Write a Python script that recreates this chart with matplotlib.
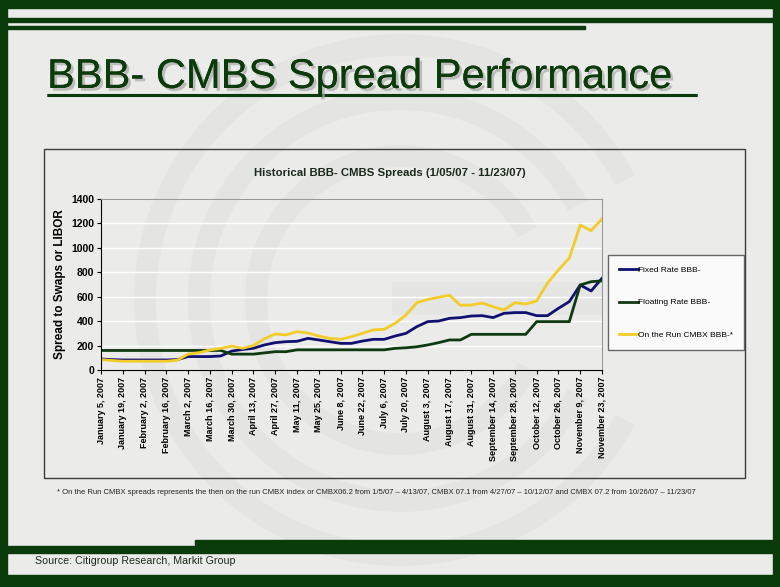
import matplotlib
matplotlib.use('Agg')
import matplotlib.pyplot as plt
import matplotlib.patches as mpatches
import matplotlib.patheffects as pe
import pandas as pd

# weekly observations, 1/05/07 - 11/23/07
weeks = pd.date_range('2007-01-05', periods=47, freq='7D')

fixed_rate = [90, 85, 82, 82, 82, 82, 82, 85, 110, 110, 110, 115, 155, 168, 178, 205,
              224, 232, 235, 259, 246, 232, 218, 218, 237, 251, 251, 278, 300, 355, 396,
              401, 423, 429, 442, 445, 429, 464, 470, 470, 445, 445, 505, 560, 696, 647, 751]
floating_rate = [160, 160, 160, 160, 160, 160, 160, 160, 160, 160, 160, 160, 130, 130, 130, 140,
                 150, 150, 165, 165, 165, 165, 165, 165, 165, 165, 165, 177, 182, 190, 205,
                 224, 246, 246, 292, 292, 292, 292, 292, 292, 396, 396, 396, 396, 696, 723, 730]
cmbx = [85, 78, 72, 72, 72, 72, 72, 80, 130, 142, 164, 177, 195, 178, 200, 255,
        295, 287, 314, 303, 278, 259, 251, 273, 300, 328, 333, 382, 450, 551, 578,
        595, 612, 530, 532, 549, 518, 491, 551, 540, 565, 712, 819, 917, 1187, 1141, 1237]

series_names = ['Fixed Rate BBB-', 'Floating Rate BBB-', 'On the Run CMBX BBB-*']
series_colors = ['#101070', '#0e3a12', '#f2cc2a']

GREEN = '#0b3a0b'
BG = '#ebebea'
W, H = 780, 587

fig = plt.figure(figsize=(7.8, 5.87), dpi=100)
fig.patch.set_facecolor(BG)

# slide decoration drawn in pixel coords
bg = fig.add_axes([0, 0, 1, 1])
bg.set_xlim(0, W)
bg.set_ylim(H, 0)
bg.axis('off')
bg.set_zorder(0)

# faint watermark rings
for r in [155, 212, 266]:
    bg.add_patch(mpatches.Wedge((400, 300), r, 28, 332, width=22,
                                facecolor='#e0e0df', edgecolor='none', alpha=0.55))
bg.add_patch(mpatches.Rectangle((392, 282), 210, 33, facecolor='#e0e0df', alpha=0.5))

# borders
bg.add_patch(mpatches.Rectangle((0, 0), W, 8, color=GREEN))
bg.add_patch(mpatches.Rectangle((0, 0), 7, H, color=GREEN))
bg.add_patch(mpatches.Rectangle((W - 7, 0), 7, H, color=GREEN))
bg.add_patch(mpatches.Rectangle((0, 18), W, 4, color=GREEN))
bg.add_patch(mpatches.Rectangle((0, 26), 585, 3, color=GREEN))
bg.add_patch(mpatches.Rectangle((195, 540), W - 195, 5, color=GREEN))
bg.add_patch(mpatches.Rectangle((0, 546), W, 7, color=GREEN))
bg.add_patch(mpatches.Rectangle((0, 575), W, 12, color=GREEN))

shadow = [pe.withSimplePatchShadow(offset=(2, -2), shadow_rgbFace='#a8a8a8', alpha=0.7), pe.Normal()]
bg.text(47, 88, 'BBB- CMBS Spread Performance', fontsize=30, family='Liberation Sans',
        color=GREEN, ha='left', va='baseline', path_effects=shadow)
bg.plot([47, 697], [95, 95], color=GREEN, lw=2.2, solid_capstyle='butt', path_effects=shadow)

# chart frame
bg.add_patch(mpatches.Rectangle((44, 149), 701, 329, facecolor='none', edgecolor='#3c3c3c', lw=1))
bg.text(390, 173, 'Historical BBB- CMBS Spreads (1/05/07 - 11/23/07)', fontsize=8.2,
        fontweight='bold', family='Liberation Sans', color='#1a2a1a', ha='center', va='center')
bg.text(57, 492, '* On the Run CMBX spreads represents the then on the run CMBX index or CMBX06.2 '
        'from 1/5/07 \u2013 4/13/07, CMBX 07.1 from 4/27/07 \u2013 10/12/07 and CMBX 07.2 '
        'from 10/26/07 \u2013 11/23/07', fontsize=5.5, family='Liberation Sans',
        color='#222222', ha='left', va='center')
bg.text(35, 561, 'Source: Citigroup Research, Markit Group', fontsize=7.7, family='Liberation Sans',
        color='#1a2a1a', ha='left', va='center')

# plot area
ax = fig.add_axes([101 / W, (H - 370) / H, (602 - 101) / W, (370 - 199) / H])
ax.set_zorder(1)
ax.set_facecolor('none')
lines = []
for vals, name, col in zip([fixed_rate, floating_rate, cmbx], series_names, series_colors):
    ln, = ax.plot(weeks, vals, color=col, lw=2, label=name, solid_joinstyle='round')
    lines.append(ln)

ax.set_ylim(0, 1400)
ax.set_yticks(range(0, 1401, 200))
ax.set_xlim(weeks[0], weeks[-1])
ax.set_xticks(weeks[::2])
ax.set_xticklabels([f'{d:%B} {d.day}, {d.year}' for d in weeks[::2]], rotation=90)
ax.grid(axis='y', color='white', lw=1)
ax.set_axisbelow(True)
for lab in ax.get_xticklabels():
    lab.set_fontsize(6.5)
    lab.set_fontweight('bold')
    lab.set_family('Liberation Sans')
for lab in ax.get_yticklabels():
    lab.set_fontsize(7.5)
    lab.set_fontweight('bold')
    lab.set_family('Liberation Sans')
ax.tick_params(axis='both', length=3, width=0.8, color='black', pad=2)
ax.spines['top'].set_color('#999999')
ax.spines['right'].set_color('#999999')
ax.spines['left'].set_color('black')
ax.spines['bottom'].set_color('black')
ax.set_ylabel('Spread to Swaps or LIBOR', fontsize=8.5, fontweight='bold',
              family='Liberation Sans', labelpad=4)

leg = fig.legend(handles=lines, loc='upper left', bbox_to_anchor=(608 / W, 1 - 255 / H),
                 frameon=True, fancybox=False, edgecolor='#444444', facecolor='white',
                 prop={'family': 'Liberation Sans', 'size': 6}, handlelength=2.3,
                 handletextpad=0.05, labelspacing=3.0, borderpad=1.3, borderaxespad=0)
leg.get_frame().set_linewidth(1)
leg.set_zorder(3)

fig.savefig('out.png', dpi=100, facecolor=fig.get_facecolor())
